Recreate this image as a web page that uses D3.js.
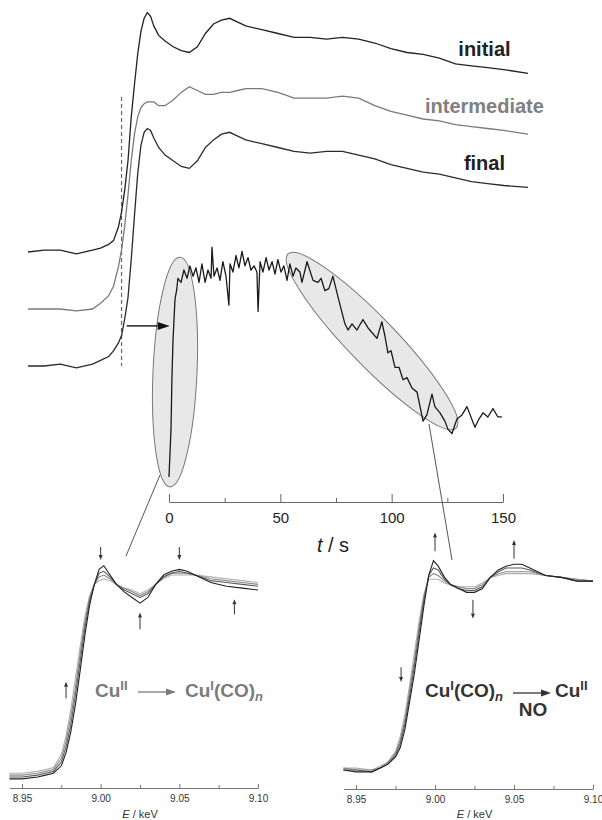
<!DOCTYPE html>
<html>
<head>
<meta charset="utf-8">
<script src="https://cdn.jsdelivr.net/npm/d3@7"></script>
<style>
  body { margin: 0; background: #fff; }
  text { font-family: "Liberation Sans", Arial, sans-serif; }
</style>
</head>
<body>
<div id="chart"></div>
<script>
// ---- top: XANES spectra at three stages (E in eV, normalised mu) ----
const topEnergy = [8925, 8935, 8945, 8955, 8965, 8970, 8975, 8978, 8981, 8983, 8985, 8987, 8989, 8991, 8993, 8995, 8997, 8999, 9001, 9003, 9006, 9010, 9015, 9020, 9025, 9030, 9035, 9040, 9045, 9050, 9055, 9060, 9070, 9080, 9090, 9100, 9110, 9120, 9130, 9140, 9150, 9160, 9170, 9180, 9190, 9200, 9210, 9220, 9235];
const initialMu = [0.00, 0.01, 0.01, -0.01, 0.01, 0.02, 0.04, 0.06, 0.13, 0.21, 0.33, 0.48, 0.71, 0.88, 1.04, 1.16, 1.23, 1.26, 1.24, 1.19, 1.14, 1.11, 1.08, 1.06, 1.05, 1.08, 1.15, 1.20, 1.22, 1.23, 1.21, 1.19, 1.17, 1.15, 1.13, 1.13, 1.12, 1.13, 1.12, 1.10, 1.07, 1.05, 1.04, 1.02, 0.99, 0.98, 0.97, 0.96, 0.94];
const intermediateMu = [0.00, 0.00, 0.00, -0.01, 0.00, 0.03, 0.07, 0.12, 0.22, 0.31, 0.44, 0.60, 0.78, 0.92, 1.01, 1.06, 1.08, 1.09, 1.09, 1.09, 1.07, 1.07, 1.10, 1.14, 1.17, 1.15, 1.13, 1.13, 1.14, 1.14, 1.15, 1.16, 1.16, 1.14, 1.11, 1.11, 1.11, 1.12, 1.11, 1.07, 1.04, 1.02, 1.00, 0.99, 0.97, 0.96, 0.95, 0.94, 0.92];
const finalMu = [0.00, 0.00, 0.01, -0.01, 0.01, 0.03, 0.05, 0.08, 0.12, 0.16, 0.25, 0.36, 0.56, 0.79, 1.01, 1.16, 1.23, 1.25, 1.24, 1.20, 1.15, 1.11, 1.08, 1.05, 1.04, 1.08, 1.15, 1.19, 1.22, 1.23, 1.21, 1.19, 1.17, 1.15, 1.13, 1.12, 1.13, 1.13, 1.11, 1.09, 1.06, 1.04, 1.02, 1.01, 0.99, 0.97, 0.96, 0.95, 0.94];
const stageNames = ["initial", "intermediate", "final"];
const stageOffsets = [0, 0.3, 0.6];

// ---- middle: white-line signal vs time ----
const timeS = [0.0, 0.9, 1.3, 1.8, 2.7, 3.4, 4.0, 5.4, 6.7, 8.1, 9.4, 10.8, 12.1, 13.5, 14.8, 16.2, 17.5, 18.9, 19.3, 20.2, 21.6, 22.9, 24.2, 25.6, 26.9, 27.4, 28.7, 30.1, 31.4, 32.8, 34.1, 35.5, 36.8, 38.2, 39.5, 40.0, 40.9, 42.2, 43.6, 44.9, 46.3, 47.6, 48.9, 50.3, 51.6, 53.0, 54.3, 55.7, 57.0, 58.8, 59.7, 62.0, 64.7, 66.9, 68.3, 70.0, 71.8, 73.6, 75.9, 79.0, 80.4, 82.2, 84.4, 87.1, 89.4, 93.4, 95.6, 97.0, 98.3, 99.7, 101.5, 103.3, 105.1, 106.9, 109.1, 111.4, 114.1, 115.8, 118.1, 119.4, 121.7, 123.9, 125.3, 127.1, 129.3, 131.6, 133.8, 137.4, 139.2, 141.0, 143.2, 145.5, 147.7, 149.5];
const signal = [0.00, 0.23, 0.47, 0.66, 0.86, 0.90, 0.96, 0.94, 1.00, 0.96, 1.02, 0.97, 1.01, 0.94, 1.03, 0.94, 1.00, 0.96, 1.11, 0.97, 1.01, 0.95, 1.04, 0.97, 0.83, 1.03, 0.99, 1.07, 1.01, 1.09, 1.02, 1.06, 1.00, 1.02, 0.99, 0.80, 1.04, 0.99, 1.06, 1.00, 1.04, 0.98, 1.05, 0.99, 1.02, 0.95, 1.03, 0.97, 1.01, 0.99, 0.94, 1.04, 0.95, 0.94, 0.96, 0.90, 0.91, 0.97, 0.87, 0.74, 0.71, 0.74, 0.71, 0.76, 0.72, 0.67, 0.75, 0.68, 0.60, 0.61, 0.53, 0.53, 0.47, 0.48, 0.43, 0.41, 0.27, 0.30, 0.40, 0.34, 0.31, 0.27, 0.23, 0.21, 0.28, 0.30, 0.34, 0.24, 0.28, 0.31, 0.29, 0.33, 0.29, 0.29];
const timeTicks = [0, 50, 100, 150];
const timeMinor = [25, 75, 125];

// ---- bottom: spectra series (E in keV) ----
const lowEnergy = [8.942, 8.95, 8.96, 8.965, 8.97, 8.975, 8.978, 8.981, 8.984, 8.987, 8.99, 8.993, 8.996, 8.999, 9.002, 9.006, 9.01, 9.015, 9.02, 9.025, 9.03, 9.035, 9.04, 9.045, 9.05, 9.055, 9.06, 9.07, 9.08, 9.09, 9.10];
const reduction = [
  [0.02, 0.02, 0.03, 0.04, 0.05, 0.12, 0.22, 0.36, 0.53, 0.70, 0.86, 0.97, 1.03, 1.05, 1.06, 1.05, 1.03, 1.01, 1.00, 0.98, 1.00, 1.03, 1.06, 1.08, 1.08, 1.08, 1.08, 1.07, 1.06, 1.05, 1.04],
  [0.01, 0.01, 0.02, 0.03, 0.04, 0.10, 0.19, 0.32, 0.48, 0.66, 0.83, 0.96, 1.03, 1.07, 1.08, 1.06, 1.03, 1.01, 0.99, 0.97, 0.99, 1.03, 1.07, 1.09, 1.09, 1.09, 1.08, 1.06, 1.05, 1.04, 1.03],
  [0.00, 0.00, 0.01, 0.02, 0.03, 0.08, 0.16, 0.28, 0.44, 0.62, 0.80, 0.94, 1.03, 1.09, 1.10, 1.07, 1.03, 1.00, 0.98, 0.96, 0.98, 1.03, 1.07, 1.09, 1.10, 1.09, 1.08, 1.05, 1.04, 1.03, 1.02],
  [-0.01, -0.01, 0.00, 0.01, 0.02, 0.06, 0.13, 0.24, 0.39, 0.57, 0.76, 0.92, 1.03, 1.11, 1.13, 1.08, 1.03, 0.99, 0.96, 0.93, 0.96, 1.03, 1.08, 1.10, 1.11, 1.10, 1.08, 1.04, 1.02, 1.01, 1.00]
];
const oxidation = [
  [0.01, 0.01, 0.00, 0.02, 0.04, 0.10, 0.18, 0.30, 0.46, 0.63, 0.80, 0.94, 1.02, 1.02, 1.02, 1.00, 0.99, 0.98, 0.98, 0.98, 1.00, 1.03, 1.04, 1.05, 1.05, 1.05, 1.05, 1.04, 1.03, 1.02, 1.01],
  [0.01, 0.00, 0.00, 0.01, 0.04, 0.09, 0.16, 0.27, 0.43, 0.59, 0.77, 0.93, 1.03, 1.05, 1.04, 1.01, 0.99, 0.98, 0.97, 0.97, 0.99, 1.03, 1.05, 1.06, 1.06, 1.06, 1.06, 1.04, 1.03, 1.02, 1.01],
  [0.00, 0.00, -0.01, 0.01, 0.03, 0.08, 0.14, 0.25, 0.40, 0.56, 0.74, 0.91, 1.04, 1.08, 1.07, 1.02, 0.99, 0.97, 0.96, 0.96, 0.98, 1.03, 1.06, 1.08, 1.08, 1.08, 1.07, 1.04, 1.03, 1.01, 1.01],
  [0.00, -0.01, -0.01, 0.01, 0.03, 0.07, 0.12, 0.22, 0.37, 0.52, 0.70, 0.88, 1.04, 1.12, 1.09, 1.03, 0.99, 0.97, 0.95, 0.95, 0.97, 1.03, 1.07, 1.09, 1.10, 1.10, 1.08, 1.04, 1.03, 1.01, 1.01]
];
const seriesColors = ["#b0b0b0", "#8a8a8a", "#5c5c5c", "#202020"];
const energyTicks = [8.95, 9.00, 9.05, 9.10];
const energyMinor = [8.975, 9.025, 9.075];

const W = 602, H = 820;
const svg = d3.select("#chart").append("svg")
  .attr("width", W).attr("height", H)
  .style("background", "#fff");

function arrow(g, x1, y1, x2, y2, len, half, color, width) {
  const a = Math.atan2(y2 - y1, x2 - x1);
  const bx = x2 - len * Math.cos(a), by = y2 - len * Math.sin(a);
  g.append("line").attr("x1", x1).attr("y1", y1).attr("x2", bx).attr("y2", by)
    .attr("stroke", color).attr("stroke-width", width);
  g.append("path")
    .attr("d", `M${x2},${y2}L${bx + half * Math.sin(a)},${by - half * Math.cos(a)}L${bx - half * Math.sin(a)},${by + half * Math.cos(a)}Z`)
    .attr("fill", color);
}

// ---------- top spectra ----------
const topX = d3.scaleLinear().domain([8925, 9235]).range([28, 528]);
const topY = d3.scaleLinear().domain([0, 1]).range([252, 62]);
const topSeries = [initialMu, intermediateMu, finalMu];
const topColors = ["#222", "#7a7a7a", "#2a2a2a"];
const topG = svg.append("g");

// dashed marker line at the edge energy
topG.append("line")
  .attr("x1", topX(8983)).attr("x2", topX(8983))
  .attr("y1", topY(0.816)).attr("y2", topY(-0.6))
  .attr("stroke", "#666").attr("stroke-width", 1.2)
  .attr("stroke-dasharray", "4,3");

topSeries.forEach((mu, i) => {
  const line = d3.line()
    .x((d, j) => topX(topEnergy[j]))
    .y(d => topY(d - stageOffsets[i]));
  topG.append("path").datum(mu)
    .attr("d", line)
    .attr("fill", "none")
    .attr("stroke", topColors[i])
    .attr("stroke-width", 1.3);
  topG.append("text")
    .attr("x", topX(9208)).attr("y", topY(1.03 - stageOffsets[i]))
    .attr("text-anchor", "middle")
    .attr("font-size", 20).attr("font-weight", "bold")
    .attr("fill", i === 1 ? "#808080" : "#222")
    .text(stageNames[i]);
});

// ---------- time trace ----------
const tX = d3.scaleLinear().domain([0, 150]).range([169, 503]);
const tY = d3.scaleLinear().domain([0, 1]).range([477, 270]);
const mid = svg.append("g");

mid.append("ellipse")
  .attr("rx", 22).attr("ry", 115)
  .attr("transform", `translate(${tX(2.7)},${tY(0.507)}) rotate(2.5)`)
  .attr("fill", "#e8e8e8").attr("stroke", "#777").attr("stroke-width", 1);
mid.append("ellipse")
  .attr("rx", 24).attr("ry", 121)
  .attr("transform", `translate(${tX(91.2)},${tY(0.657)}) rotate(-44)`)
  .attr("fill", "#e8e8e8").attr("stroke", "#777").attr("stroke-width", 1);

mid.append("path")
  .datum(signal)
  .attr("d", d3.line().x((d, i) => tX(timeS[i])).y(d => tY(d)))
  .attr("fill", "none").attr("stroke", "#1a1a1a").attr("stroke-width", 1.3)
  .attr("stroke-linejoin", "round");

arrow(mid, tX(-19), tY(0.73), tX(0.3), tY(0.73), 12, 4, "#111", 1.4);

const tAxis = mid.append("g").attr("transform", "translate(0,502)")
  .call(d3.axisBottom(tX).tickValues(timeTicks).tickSizeInner(-8).tickSizeOuter(0).tickPadding(10));
tAxis.selectAll("text").attr("font-size", 15).attr("fill", "#222")
  .style("font-family", "Liberation Sans, Arial, sans-serif");
mid.append("g").attr("transform", "translate(0,502)")
  .call(d3.axisBottom(tX).tickValues(timeMinor).tickSizeInner(-4).tickSizeOuter(0).tickFormat(""))
  .select(".domain").remove();
mid.selectAll(".tick line, .domain").attr("stroke", "#666");

const tLabel = mid.append("text").attr("x", 333).attr("y", 552)
  .attr("text-anchor", "middle").attr("font-size", 20).attr("fill", "#222");
tLabel.append("tspan").attr("font-style", "italic").text("t");
tLabel.append("tspan").text(" / s");

// connectors from ellipses to lower panels
mid.append("line").attr("x1", 160).attr("y1", 475).attr("x2", 126).attr("y2", 556)
  .attr("stroke", "#555").attr("stroke-width", 1);
mid.append("line").attr("x1", 429).attr("y1", 424).attr("x2", 452).attr("y2", 560)
  .attr("stroke", "#555").attr("stroke-width", 1);

// ---------- lower panels ----------
function chem(g, x, y, parts, color) {
  const t = g.append("text").attr("x", x).attr("y", y).attr("fill", color)
    .attr("font-size", 19).attr("font-weight", "bold");
  let shift = 0;
  parts.forEach(p => {
    const target = p.pos === "sup" ? -7 : p.pos === "sub" ? 4 : 0;
    const s = t.append("tspan").attr("dy", target - shift).text(p.text);
    shift = target;
    if (p.pos) s.attr("font-size", 13);
    if (p.italic) s.attr("font-style", "italic");
  });
  return t;
}

function panel(x0, x1, yBase, axisY, series, arrows) {
  const x = d3.scaleLinear().domain([8.942, 9.10]).range([x0, x1]);
  const y = d3.scaleLinear().domain([0, 1]).range([yBase, yBase - 187]);
  const g = svg.append("g");
  series.forEach((s, i) => {
    g.append("path").datum(s)
      .attr("d", d3.line().x((d, j) => x(lowEnergy[j])).y(d => y(d)))
      .attr("fill", "none").attr("stroke", seriesColors[i]).attr("stroke-width", 1.1);
  });
  const ax = g.append("g").attr("transform", `translate(0,${axisY})`)
    .call(d3.axisBottom(x).tickValues(energyTicks).tickSizeInner(-4).tickSizeOuter(0)
      .tickPadding(7).tickFormat(d3.format(".2f")));
  ax.selectAll("text").attr("font-size", 10).attr("fill", "#333")
    .style("font-family", "Liberation Sans, Arial, sans-serif");
  g.append("g").attr("transform", `translate(0,${axisY})`)
    .call(d3.axisBottom(x).tickValues(energyMinor).tickSizeInner(-3).tickSizeOuter(0).tickFormat(""))
    .select(".domain").remove();
  g.selectAll(".tick line, .domain").attr("stroke", "#777");
  const lab = g.append("text").attr("x", x(9.025)).attr("y", 818)
    .attr("text-anchor", "middle").attr("font-size", 11).attr("fill", "#333");
  lab.append("tspan").attr("font-style", "italic").text("E");
  lab.append("tspan").text(" / keV");
  arrows.forEach(a => arrow(g, x(a[0]), y(a[1]), x(a[0]), y(a[2]), 5, 2, "#333", 1));
  return g;
}

const left = panel(9.4, 258, 777, 788, reduction,
  [[9.0, 1.23, 1.16], [9.05, 1.23, 1.16], [9.025, 0.79, 0.88], [9.085, 0.87, 0.95], [8.978, 0.42, 0.51]]);
const right = panel(343.4, 593, 770, 789, oxidation,
  [[9.0, 1.17, 1.27], [9.024, 0.91, 0.81], [9.05, 1.13, 1.23], [8.9785, 0.55, 0.47]]);

const grayText = "#7a7a7a", darkText = "#333";
chem(left, 95, 697, [{ text: "Cu" }, { text: "II", pos: "sup" }], grayText);
arrow(left, 138, 692, 176, 692, 10, 3.5, grayText, 1.3);
chem(left, 185, 697, [{ text: "Cu" }, { text: "I", pos: "sup" }, { text: "(CO)" }, { text: "n", pos: "sub", italic: true }], grayText);

chem(right, 425, 697, [{ text: "Cu" }, { text: "I", pos: "sup" }, { text: "(CO)" }, { text: "n", pos: "sub", italic: true }], darkText);
arrow(right, 513, 693, 551, 693, 10, 3.5, darkText, 1.3);
chem(right, 555, 697, [{ text: "Cu" }, { text: "II", pos: "sup" }], darkText);
right.append("text").attr("x", 533).attr("y", 716).attr("text-anchor", "middle")
  .attr("font-size", 19).attr("font-weight", "bold").attr("fill", darkText).text("NO");
</script>
</body>
</html>
